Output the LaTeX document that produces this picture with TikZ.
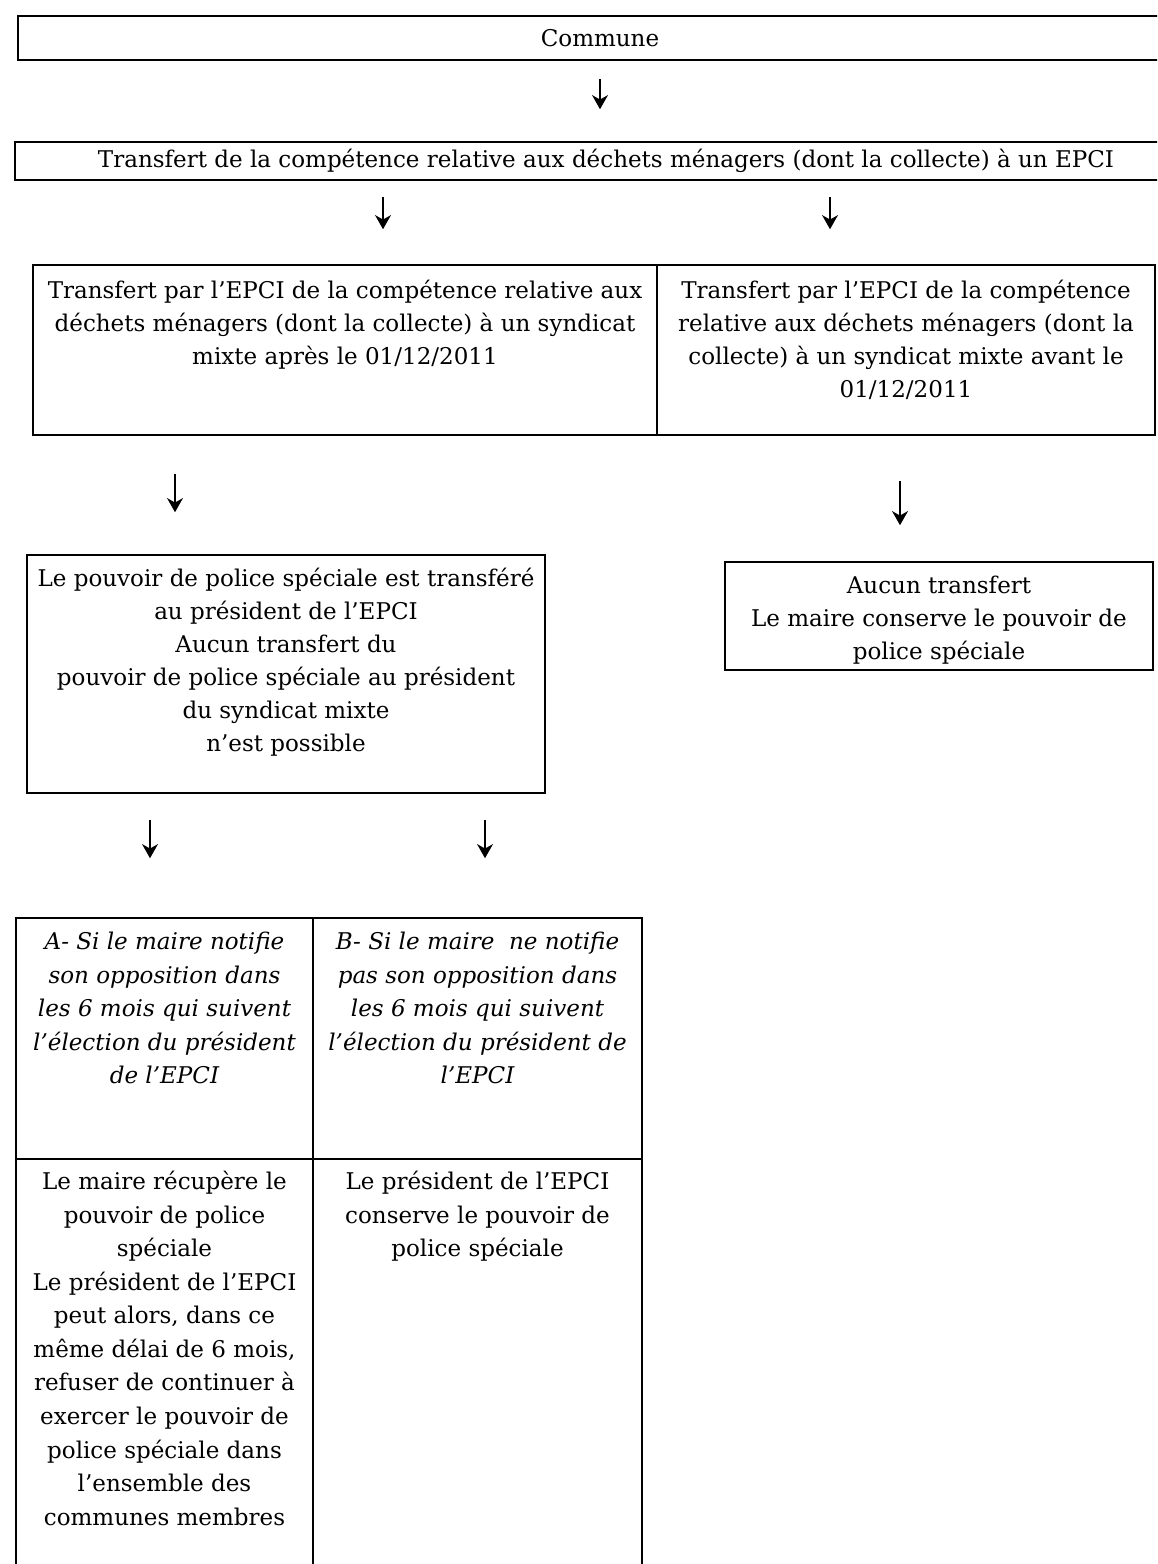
\documentclass[tikz,border=0pt]{standalone}
\usepackage{fontspec}
\setmainfont{DejaVu Serif}
\usetikzlibrary{arrows.meta,positioning}

\tikzset{
  box/.style={draw, line width=1.4pt, inner sep=0pt},
  txt/.style={align=center, inner sep=0pt, font=\fontsize{13.1}{18.8}\selectfont},
  itxt/.style={txt, font=\fontsize{13.1}{19.1}\selectfont\itshape},
  rtxt/.style={txt, font=\fontsize{13.1}{19.1}\selectfont},
  down/.style={line width=1.2pt, -{Stealth[length=8pt, width=9pt, inset=2.5pt]}},
}

\begin{document}
\begin{tikzpicture}[x=0.02cm, y=-0.02cm]
\useasboundingbox (0,0) rectangle (1157,1564);
\fill[white] (0,0) rectangle (1157,1564);
\clip (0,0) rectangle (1157,1564);

% top boxes
\node[box, txt, minimum width=23.28cm, minimum height=0.88cm] (commune) at (600,38) {Commune};
\node[box, txt, minimum width=23.64cm, minimum height=0.76cm] (epci) at (606,161)
  {Transfert de la compétence relative aux déchets ménagers (dont la collecte) à un EPCI};

% syndicat mixte
\node[box, minimum width=12.48cm, minimum height=3.4cm] (apres) at (345,350) {};
\node[box, minimum width=9.96cm, minimum height=3.4cm] (avant) at (906,350) {};
\node[txt, below=0.32cm of apres.north] (apresTxt) {Transfert par l'EPCI de la compétence relative aux\\
  déchets ménagers (dont la collecte) à un syndicat\\mixte après le 01/12/2011};
\node[txt, below=0.32cm of avant.north] (avantTxt) {Transfert par l'EPCI de la compétence\\
  relative aux déchets ménagers (dont la\\collecte) à un syndicat mixte avant le\\01/12/2011};

% police speciale
\node[box, minimum width=10.36cm, minimum height=4.76cm] (police) at (286,674) {};
\node[txt, below=0.28cm of police.north] (policeTxt) {Le pouvoir de police spéciale est transféré\\
  au président de l'EPCI\\Aucun transfert du\\pouvoir de police spéciale au président\\
  du syndicat mixte\\n'est possible};
\node[box, minimum width=8.56cm, minimum height=2.16cm] (aucun) at (939,616) {};
\node[txt, below=0.3cm of aucun.north] (aucunTxt) {Aucun transfert\\Le maire conserve le pouvoir de\\police spéciale};

% tableau A / B
\node[box, minimum width=5.94cm, minimum height=4.82cm] (siA) at (164.5,1038.5) {};
\node[box, minimum width=6.58cm, minimum height=4.82cm] (siB) at (477.5,1038.5) {};
\node[box, minimum width=5.94cm, minimum height=9.22cm] (resA) at (164.5,1389.5) {};
\node[box, minimum width=6.58cm, minimum height=9.22cm] (resB) at (477.5,1389.5) {};
\node[itxt, below=0.3cm of siA.north] (siATxt) {A- Si le maire notifie\\son opposition dans\\
  les 6 mois qui suivent\\l'élection du président\\de l'EPCI};
\node[itxt, below=0.3cm of siB.north] (siBTxt) {B- Si le maire\ \ ne notifie\\pas son opposition dans\\
  les 6 mois qui suivent\\l'élection du président de\\l'EPCI};
\node[rtxt, below=0.26cm of resA.north] (resATxt) {Le maire récupère le\\pouvoir de police\\
  spéciale\\Le président de l'EPCI\\peut alors, dans ce\\même délai de 6 mois,\\
  refuser de continuer à\\exercer le pouvoir de\\police spéciale dans\\
  l'ensemble des\\communes membres};
\node[rtxt, below=0.26cm of resB.north] (resBTxt) {Le président de l'EPCI\\
  conserve le pouvoir de\\police spéciale};

% fleches
\draw[down] (commune.south) ++(0,18) -- ++(0,30);
\draw[down] (epci.south) ++(-223,16) -- ++(0,32);
\draw[down] (epci.south) ++(224,16) -- ++(0,32);
\draw[down] (apres.south) ++(-170,38) -- ++(0,38);
\draw[down] (avant.south) ++(-6,45) -- ++(0,44);
\draw[down] (police.south) ++(-136,26) -- ++(0,38);
\draw[down] (police.south) ++(199,26) -- ++(0,38);
\end{tikzpicture}
\end{document}
